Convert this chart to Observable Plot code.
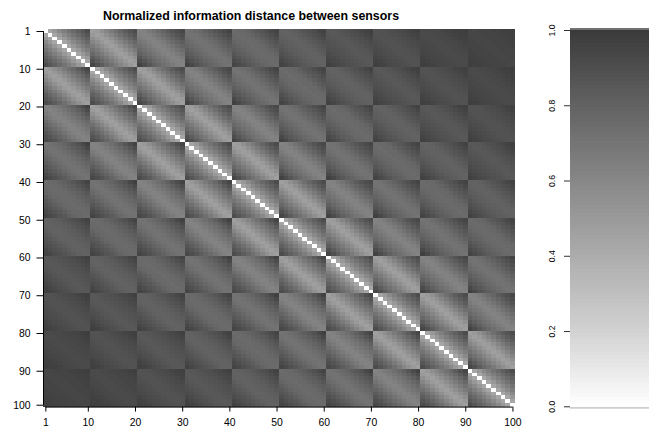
<!DOCTYPE html>
<html><head><meta charset="utf-8">
<script src="https://cdn.jsdelivr.net/npm/d3@7"></script>
<script src="https://cdn.jsdelivr.net/npm/@observablehq/plot@0.6"></script>
<style>
html,body{margin:0;padding:0;background:#fff;overflow:hidden}
#page{position:relative;width:649px;height:427px;font-family:"Liberation Sans",sans-serif}
#title{position:absolute;left:0;top:8.5px;width:502px;text-align:center;font-weight:bold;font-size:12.4px;line-height:14px;color:#000;white-space:nowrap}
#main,#bar{position:absolute;top:0}
#main{left:0}#bar{left:530px}
svg{background:transparent}
</style></head><body>
<div id="page"><div id="title">Normalized information distance between sensors</div><div id="main"></div><div id="bar"></div></div>
<script>
const xTickPos = [0,9,19,29,39,49,59,69,79,89,99];
const yTickPos = [0,10,20,30,40,50,60,70,80,90,99];
const tickLabels = [1,10,20,30,40,50,60,70,80,90,100];
const barTicks = [0,0.2,0.4,0.6,0.8,1];
const colorStops = [0,0.2,0.4,0.6,0.8,1];
const colorGrays = ["#ffffff","#d2d2d2","#acacac","#878787","#626262","#3a3a3a"];
// distance, per tile gap, by offset -9..9 inside a tile
const gap0 = [.91,.86,.81,.76,.71,.65,.59,.51,.43,0,.43,.51,.59,.65,.71,.76,.81,.86,.91];
const gap1 = [.94,.89,.83,.77,.72,.67,.61,.56,.51,.47,.50,.55,.61,.67,.73,.78,.83,.87,.91];
const gap2 = [.96,.91,.86,.81,.77,.73,.70,.67,.64,.62,.64,.67,.71,.75,.79,.83,.87,.90,.93];
const gap3 = [.97,.93,.88,.85,.82,.79,.76,.74,.72,.71,.72,.74,.77,.80,.83,.86,.89,.92,.95];
const gap4 = [.95,.92,.89,.86,.83,.81,.79,.77,.76,.75,.76,.77,.79,.82,.85,.87,.90,.93,.95];
const gap5 = [.96,.94,.91,.89,.87,.85,.83,.82,.81,.80,.80,.81,.83,.85,.87,.89,.91,.94,.96];
const gap6 = [.97,.95,.93,.92,.90,.89,.88,.87,.86,.85,.85,.86,.87,.89,.90,.92,.94,.96,.97];
const gap7 = [.97,.96,.95,.93,.92,.91,.90,.89,.88,.88,.88,.89,.90,.91,.92,.93,.95,.96,.97];
const gap8 = [.98,.97,.96,.95,.94,.94,.93,.93,.92,.92,.92,.93,.93,.94,.95,.96,.97,.97,.98];
const gap9 = [.98,.97,.97,.96,.96,.95,.95,.95,.94,.94,.94,.95,.95,.95,.96,.96,.97,.97,.98];
const gaps = [gap0,gap1,gap2,gap3,gap4,gap5,gap6,gap7,gap8,gap9];

const sensors = d3.range(100);
const cells = sensors.flatMap(r => sensors.map(c => {
  const a = Math.min(r,c), b = Math.max(r,c);
  const gap = Math.floor(b/10) - Math.floor(a/10);
  const off = (b%10) - (a%10);
  return {r, c, v: gaps[gap][off+9]};
}));
const colorScale = {type:"linear", domain:colorStops, range:colorGrays, interpolate:"rgb"};

const main = Plot.plot({
  width:530, height:427, marginLeft:43, marginRight:15.2, marginTop:29.1, marginBottom:20.4,
  style:{fontFamily:"'Liberation Sans',sans-serif", fontSize:"10.4px", color:"#000", background:"transparent", overflow:"visible"},
  x:{type:"linear", domain:[-0.5,99.5], axis:null},
  y:{type:"linear", domain:[99.5,-0.5], axis:null},
  color:colorScale,
  marks:[
    Plot.rect(cells,{x1:d=>d.c-.5,x2:d=>d.c+.5,y1:d=>d.r-.5,y2:d=>d.r+.5,fill:"v",shapeRendering:"crispEdges"}),
    Plot.axisX({ticks:xTickPos,tickFormat:(d)=>tickLabels[xTickPos.indexOf(d)],tickSize:5,tickPadding:7,anchor:"bottom",label:null,stroke:"#000"}),
    Plot.axisY({ticks:yTickPos,tickFormat:(d)=>tickLabels[yTickPos.indexOf(d)],tickSize:6.5,tickPadding:6.5,anchor:"left",label:null,stroke:"#000"}),
    Plot.ruleY([99.5],{x1:xTickPos[0],x2:xTickPos[10],stroke:"#000"}),
    Plot.ruleX([-0.5],{y1:yTickPos[0],y2:yTickPos[10],stroke:"#000"})
  ]
});
document.getElementById("main").append(main);

const levels = d3.range(0,101).map(k=>k/100);
const bar = Plot.plot({
  width:119, height:427, marginLeft:40, marginRight:0, marginTop:30, marginBottom:20.7,
  style:{fontFamily:"'Liberation Sans',sans-serif", fontSize:"8.6px", color:"#000", background:"transparent", overflow:"visible"},
  x:{axis:null},
  y:{type:"linear", domain:[0,1], axis:null},
  color:colorScale,
  marks:[
    Plot.rect(levels,{y1:d=>d-.005,y2:d=>d+.005,fill:d=>d,shapeRendering:"crispEdges"}),
    Plot.ruleY([-0.003,1.004],{stroke:"#aaa"}),
    Plot.axisY({ticks:barTicks,tickFormat:d3.format(".1f"),tickSize:6,tickPadding:10,tickRotate:-90,textAnchor:"middle",anchor:"left",label:null,stroke:"#333"})
  ]
});
document.getElementById("bar").append(bar);
</script>
</body></html>
